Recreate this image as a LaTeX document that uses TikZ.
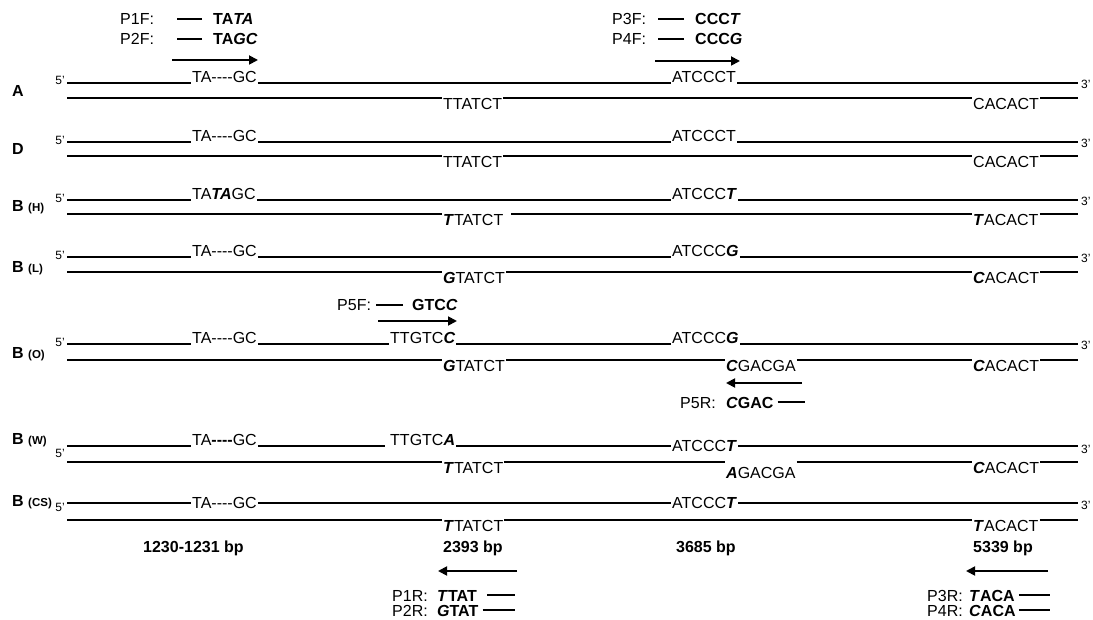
\documentclass[tikz,border=0pt]{standalone}
\usepackage{fontspec}
\setmainfont{Liberation Sans}
\usetikzlibrary{arrows.meta}
\newcommand{\gapdash}{\mbox{-}\mbox{-}\mbox{-}\mbox{-}}
\newcommand{\bsub}[1]{{\fontsize{11.5}{13}\selectfont #1}}

\begin{document}
\begin{tikzpicture}[x=1pt,y=-1pt,
  every node/.style={font=\fontsize{16}{19}\selectfont, inner xsep=1pt, inner ysep=0pt, anchor=base west},
  strand/.style={line width=1.8pt},
  topseq/.style={anchor=base west},
  botseq/.style={anchor=north west},
  midseq/.style={anchor=west},
  primseq/.style={font=\fontsize{16}{19}\selectfont\bfseries},
  rowlbl/.style={font=\fontsize{16}{19}\selectfont\bfseries},
  bplbl/.style={font=\fontsize{16}{19}\selectfont\bfseries},
  primeend/.style={font=\fontsize{12}{14}\selectfont, inner sep=0pt},
  tick/.style={line width=1.3pt},
  primarrow/.style={line width=1.8pt, -{Triangle[length=9pt,width=9pt]}}]
  \useasboundingbox (0,0) rectangle (1093,620);

  % forward primers
  \node (p1f) at (119,25) {P1F:};
  \node[primseq] (p1fseq) at (212,25) {TA\textit{TA}};
  \draw[tick] ([shift={(-10,-6)}]p1fseq.base west) -- ++(-25,0);
  \node (p2f) at (119,45) {P2F:};
  \node[primseq] (p2fseq) at (212,45) {TA\textit{GC}};
  \draw[tick] ([shift={(-10,-6)}]p2fseq.base west) -- ++(-25,0);
  \coordinate (f12a) at (172,60); \coordinate (f12b) at (258,60);
  \draw[primarrow] (f12a) -- (f12b);

  \node (p3f) at (611,25) {P3F:};
  \node[primseq] (p3fseq) at (694,25) {CCC\textit{T}};
  \draw[tick] ([shift={(-10,-6)}]p3fseq.base west) -- ++(-26,0);
  \node (p4f) at (611,45) {P4F:};
  \node[primseq] (p4fseq) at (694,45) {CCC\textit{G}};
  \draw[tick] ([shift={(-10,-6)}]p4fseq.base west) -- ++(-26,0);
  \coordinate (f34a) at (655,61); \coordinate (f34b) at (740,61);
  \draw[primarrow] (f34a) -- (f34b);

  % row A
  \node[rowlbl] (labA) at (11,97) {A};
  \node[primeend, anchor=east] (a5) at (65,80) {5'};
  \node[primeend, anchor=west] (a3) at (1081,84) {3'};
  \coordinate (aTL) at (67,83); \coordinate (aTR) at (1078,83);
  \coordinate (aBL) at (67,98); \coordinate (aBR) at (1078,98);
  \node[topseq] (aT1) at (191,83) {TA\gapdash GC};
  \node[topseq] (aT2) at (671,83) {ATCCCT};
  \node[botseq] (aB1) at (442,98) {TTATCT};
  \node[botseq] (aB2) at (972,98) {CACACT};
  \draw[strand] (aTL) -- (aT1.base west) (aT1.base east) -- (aT2.base west) (aT2.base east) -- (aTR);
  \draw[strand] (aBL) -- (aB1.north west) (aB1.north east) -- (aB2.north west) (aB2.north east) -- (aBR);

  % row D
  \node[rowlbl] (labD) at (11,155) {D};
  \node[primeend, anchor=east] (d5) at (65,140) {5'};
  \node[primeend, anchor=west] (d3) at (1081,143) {3'};
  \coordinate (dTL) at (67,142); \coordinate (dTR) at (1078,142);
  \coordinate (dBL) at (67,156); \coordinate (dBR) at (1078,156);
  \node[topseq] (dT1) at (191,142) {TA\gapdash GC};
  \node[topseq] (dT2) at (671,142) {ATCCCT};
  \node[botseq] (dB1) at (442,156) {TTATCT};
  \node[botseq] (dB2) at (972,156) {CACACT};
  \draw[strand] (dTL) -- (dT1.base west) (dT1.base east) -- (dT2.base west) (dT2.base east) -- (dTR);
  \draw[strand] (dBL) -- (dB1.north west) (dB1.north east) -- (dB2.north west) (dB2.north east) -- (dBR);

  % row B (H)
  \node[rowlbl] (labH) at (11,212) {B \bsub{(H)}};
  \node[primeend, anchor=east] (h5) at (65,198) {5'};
  \node[primeend, anchor=west] (h3) at (1081,201) {3'};
  \coordinate (hTL) at (67,200); \coordinate (hTR) at (1078,200);
  \coordinate (hBL) at (67,214); \coordinate (hBR) at (1078,214);
  \node[topseq] (hT1) at (191,200) {TA\textbf{\textit{TA}}GC};
  \node[topseq] (hT2) at (671,200) {ATCCC\textbf{\textit{T}}};
  \node[botseq] (hB1) at (442,214) {\textbf{\textit{T}}TATCT};
  \node[botseq] (hB2) at (972,214) {\textbf{\textit{T}}ACACT};
  \draw[strand] (hTL) -- (hT1.base west) (hT1.base east) -- (hT2.base west) (hT2.base east) -- (hTR);
  \draw[strand] (hBL) -- (hB1.north west) ([xshift=7pt]hB1.north east) -- (hB2.north west) (hB2.north east) -- (hBR);

  % row B (L)
  \node[rowlbl] (labL) at (11,273) {B \bsub{(L)}};
  \node[primeend, anchor=east] (l5) at (65,255) {5'};
  \node[primeend, anchor=west] (l3) at (1081,258) {3'};
  \coordinate (lTL) at (67,257); \coordinate (lTR) at (1078,257);
  \coordinate (lBL) at (67,272); \coordinate (lBR) at (1078,272);
  \node[topseq] (lT1) at (191,257) {TA\gapdash GC};
  \node[topseq] (lT2) at (671,257) {ATCCC\textbf{\textit{G}}};
  \node[botseq] (lB1) at (442,272) {\textbf{\textit{G}}TATCT};
  \node[botseq] (lB2) at (972,272) {\textbf{\textit{C}}ACACT};
  \draw[strand] (lTL) -- (lT1.base west) (lT1.base east) -- (lT2.base west) (lT2.base east) -- (lTR);
  \draw[strand] (lBL) -- (lB1.north west) (lB1.north east) -- (lB2.north west) (lB2.north east) -- (lBR);

  % primer P5F
  \node (p5f) at (336,311) {P5F:};
  \node[primseq] (p5fseq) at (411,311) {GTC\textit{C}};
  \draw[tick] ([shift={(-8,-6)}]p5fseq.base west) -- ++(-27,0);
  \coordinate (f5a) at (378,321); \coordinate (f5b) at (457,321);
  \draw[primarrow] (f5a) -- (f5b);

  % row B (O)
  \node[rowlbl] (labO) at (11,359) {B \bsub{(O)}};
  \node[primeend, anchor=east] (o5) at (65,342) {5'};
  \node[primeend, anchor=west] (o3) at (1081,345) {3'};
  \coordinate (oTL) at (67,344); \coordinate (oTR) at (1078,344);
  \coordinate (oBL) at (67,360); \coordinate (oBR) at (1078,360);
  \node[topseq] (oT1) at (191,344) {TA\gapdash GC};
  \node[topseq] (oT2) at (389,344) {TTGTC\textbf{\textit{C}}};
  \node[topseq] (oT3) at (671,344) {ATCCC\textbf{\textit{G}}};
  \node[botseq] (oB1) at (442,360) {\textbf{\textit{G}}TATCT};
  \node[botseq] (oB2) at (725,360) {\textbf{\textit{C}}GACGA};
  \node[botseq] (oB3) at (972,360) {\textbf{\textit{C}}ACACT};
  \draw[strand] (oTL) -- (oT1.base west) (oT1.base east) -- (oT2.base west) (oT2.base east) -- (oT3.base west) (oT3.base east) -- (oTR);
  \draw[strand] (oBL) -- (oB1.north west) (oB1.north east) -- (oB2.north west) (oB2.north east) -- (oB3.north west) (oB3.north east) -- (oBR);

  % primer P5R
  \coordinate (r5a) at (802,383); \coordinate (r5b) at (726,383);
  \draw[primarrow] (r5a) -- (r5b);
  \node (p5r) at (679,408) {P5R:};
  \node[primseq] (p5rseq) at (725,408) {\textit{C}GAC};
  \draw[tick] ([shift={(3,-6)}]p5rseq.base east) -- ++(27,0);

  % row B (W)
  \node[rowlbl] (labW) at (11,444) {B \bsub{(W)}};
  \node[primeend, anchor=east] (w5) at (65,453) {5'};
  \node[primeend, anchor=west] (w3) at (1081,449) {3'};
  \coordinate (wTL) at (67,446); \coordinate (wTR) at (1078,446);
  \coordinate (wBL) at (67,462); \coordinate (wBR) at (1078,462);
  \node[topseq] (wT1) at (191,446) {TA\textbf{\gapdash}GC};
  \node[topseq] (wT2) at (389,445) {TTGTC\textbf{\textit{A}}};
  \node[midseq] (wT3) at (671,446) {ATCCC\textbf{\textit{T}}};
  \node[botseq] (wB1) at (442,462) {\textbf{\textit{T}}TATCT};
  \node[botseq] (wB2) at (725,467) {\textbf{\textit{A}}GACGA};
  \node[botseq] (wB3) at (972,462) {\textbf{\textit{C}}ACACT};
  \draw[strand] (wTL) -- (wT1.base west) (wT1.base east) -- ([xshift=-4pt]wT2.base west |- wTL) (wT2.base east |- wTL) -- (wT3.west) (wT3.east) -- (wTR);
  \draw[strand] (wBL) -- (wB1.north west) (wB1.north east) -- (wB2.north west |- wBL) (wB2.north east |- wBL) -- (wB3.north west) (wB3.north east) -- (wBR);

  % row B (CS)
  \node[rowlbl] (labCS) at (11,506) {B \bsub{(CS)}};
  \node[primeend, anchor=east] (c5) at (65,507) {5'};
  \node[primeend, anchor=west] (c3) at (1081,505) {3'};
  \coordinate (cTL) at (67,503); \coordinate (cTR) at (1078,503);
  \coordinate (cBL) at (67,520); \coordinate (cBR) at (1078,520);
  \node[midseq] (cT1) at (191,503) {TA\gapdash GC};
  \node[midseq] (cT2) at (671,503) {ATCCC\textbf{\textit{T}}};
  \node[botseq] (cB1) at (442,520) {\textbf{\textit{T}}TATCT};
  \node[botseq] (cB2) at (972,520) {\textbf{\textit{T}}ACACT};
  \draw[strand] (cTL) -- (cT1.west) (cT1.east) -- (cT2.west) (cT2.east) -- (cTR);
  \draw[strand] (cBL) -- (cB1.north west) (cB1.north east) -- (cB2.north west) (cB2.north east) -- (cBR);

  % positions
  \node[bplbl] (bp1) at (142,552) {1230-1231 bp};
  \node[bplbl] (bp2) at (442,552) {2393 bp};
  \node[bplbl] (bp3) at (675,552) {3685 bp};
  \node[bplbl] (bp4) at (972,552) {5339 bp};

  % reverse primers
  \coordinate (r12a) at (517,571); \coordinate (r12b) at (438,571);
  \draw[primarrow] (r12a) -- (r12b);
  \node (p1r) at (391,601) {P1R:};
  \node[primseq] (p1rseq) at (436,601) {\textit{T}TAT};
  \draw[tick] ([shift={(9,-6)}]p1rseq.base east) -- ++(28,0);
  \node (p2r) at (391,616) {P2R:};
  \node[primseq] (p2rseq) at (436,616) {\textit{G}TAT};
  \draw[tick] ([shift={(3,-6)}]p2rseq.base east) -- ++(32,0);

  \coordinate (r34a) at (1048,571); \coordinate (r34b) at (966,571);
  \draw[primarrow] (r34a) -- (r34b);
  \node (p3r) at (926,601) {P3R:};
  \node[primseq] (p3rseq) at (968,601) {\textit{T}ACA};
  \draw[tick] ([shift={(3,-6)}]p3rseq.base east) -- ++(31,0);
  \node (p4r) at (926,616) {P4R:};
  \node[primseq] (p4rseq) at (968,616) {\textit{C}ACA};
  \draw[tick] ([shift={(2,-6)}]p4rseq.base east) -- ++(31,0);
\end{tikzpicture}
\end{document}
